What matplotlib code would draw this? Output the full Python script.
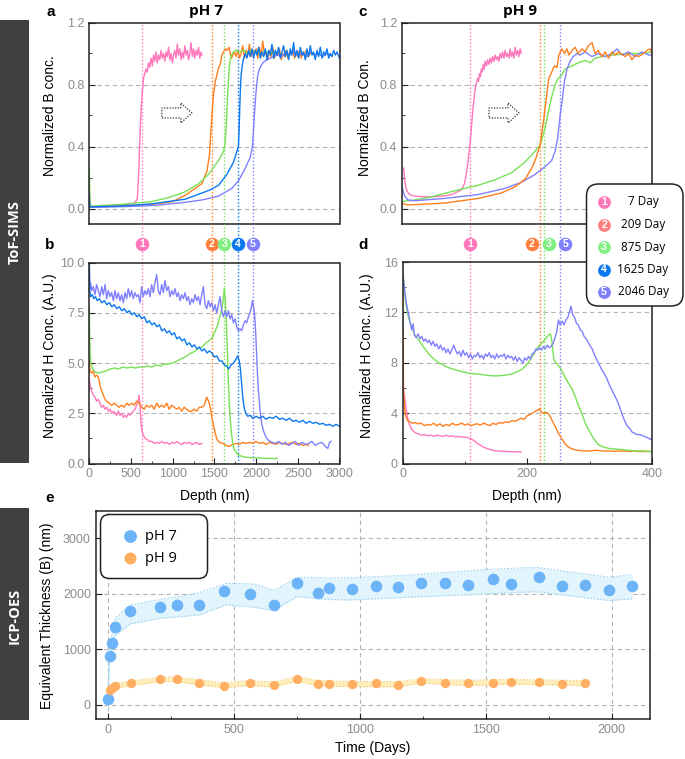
import matplotlib
matplotlib.use("Agg")
import matplotlib.pyplot as plt
from matplotlib.patches import FancyBboxPatch, Polygon, Rectangle
from matplotlib.ticker import MultipleLocator, FormatStrFormatter

# ---------------- data ----------------
DAY_LABELS = ["7 Day", "209 Day", "875 Day", "1625 Day", "2046 Day"]

# panel a: pH 7, normalized B vs depth (nm)
PH7_B_PINK = [(0,0.012),(150,0.014),(300,0.018),(450,0.025),(540,0.035),(575,0.06),(590,0.2),(600,0.35),(612,0.54),(624,0.66),(636,0.75),(650,0.84),(665,0.87),(680,0.9),(695,0.88),(710,0.94),(725,0.91),(740,0.97),(755,0.92),(770,0.99),(785,0.95),(800,1.01),(815,0.94),(830,0.99),(845,0.96),(860,1.02),(875,0.97),(890,1.0),(905,0.95),(920,1.01),(935,0.98),(950,1.04),(965,0.96),(980,1.0),(995,0.94),(1010,0.99),(1025,1.02),(1040,0.97),(1055,1.06),(1070,0.99),(1085,1.03),(1100,0.96),(1115,1.01),(1130,0.97),(1145,1.05),(1160,0.99),(1175,1.02),(1190,0.96),(1205,1.0),(1220,1.07),(1235,0.98),(1250,1.03),(1265,0.97),(1280,1.02),(1295,0.99),(1310,1.04),(1325,0.97),(1340,1.01),(1350,0.99)]
PH7_B_ORANGE = [(0,0.01),(200,0.012),(400,0.016),(600,0.022),(800,0.03),(1000,0.045),(1150,0.085),(1270,0.13),(1350,0.16),(1410,0.24),(1440,0.34),(1470,0.6),(1490,0.74),(1510,0.82),(1530,0.86),(1550,0.91),(1570,0.93),(1590,0.99),(1610,1.01),(1630,1.03),(1650,1.02),(1675,1.04),(1690,1.0),(1705,0.97),(1720,0.99),(1740,1.01),(1760,0.98),(1780,1.02),(1800,0.97),(1820,1.0),(1840,1.05),(1860,0.97),(1880,1.02),(1900,0.99),(1920,1.06),(1940,0.98),(1960,1.02),(1980,1.0),(2000,1.03),(2020,0.97),(2040,1.04),(2060,0.98),(2080,1.08),(2100,0.99),(2120,1.01),(2140,0.96),(2160,1.02),(2180,0.98),(2200,1.04),(2220,0.97),(2240,1.01),(2260,0.99),(2280,1.03),(2300,0.96),(2320,1.0),(2340,0.98),(2360,1.02),(2380,0.97),(2400,1.01),(2420,0.99),(2440,1.03),(2460,0.97),(2480,1.0),(2500,0.98),(2520,1.02),(2540,0.97),(2560,1.01),(2580,0.99),(2600,1.02),(2620,0.98),(2650,1.0)]
PH7_B_GREEN = [(0,0.25),(5,0.12),(12,0.03),(30,0.015),(150,0.02),(350,0.025),(550,0.035),(750,0.045),(950,0.07),(1150,0.108),(1310,0.16),(1430,0.22),(1550,0.31),(1610,0.37),(1628,0.42),(1640,0.52),(1650,0.62),(1660,0.75),(1670,0.84),(1680,0.92),(1690,0.96),(1705,0.99),(1730,1.01),(1760,1.02),(1800,1.01),(1850,1.02),(1900,1.0),(1950,1.02),(2000,1.01),(2050,0.99),(2100,1.02),(2150,1.0),(2200,1.01),(2250,1.0)]
PH7_B_BLUE = [(0,0.06),(5,0.01),(100,0.012),(300,0.015),(500,0.02),(750,0.03),(950,0.045),(1150,0.06),(1350,0.1),(1450,0.12),(1550,0.15),(1650,0.22),(1730,0.3),(1770,0.37),(1788,0.4),(1796,0.5),(1804,0.65),(1812,0.78),(1822,0.87),(1836,0.93),(1852,0.97),(1870,1.0),(1890,0.97),(1910,1.02),(1930,0.98),(1950,1.03),(1970,0.97),(1990,1.02),(2010,0.99),(2030,1.04),(2050,0.97),(2070,1.01),(2090,0.98),(2110,1.03),(2130,0.96),(2150,1.02),(2170,0.99),(2190,1.06),(2210,0.97),(2230,1.02),(2250,0.99),(2270,1.04),(2290,0.97),(2310,1.01),(2330,1.05),(2350,0.98),(2370,1.02),(2390,0.96),(2410,1.03),(2430,0.99),(2450,1.07),(2470,0.98),(2490,1.02),(2510,0.97),(2530,1.04),(2550,0.99),(2570,1.01),(2590,0.96),(2610,1.03),(2630,0.98),(2650,1.05),(2670,0.99),(2690,1.01),(2710,0.96),(2730,1.02),(2750,0.98),(2770,1.04),(2790,0.97),(2810,1.01),(2830,0.99),(2850,1.03),(2870,0.97),(2890,1.0),(2910,0.98),(2930,1.02),(2950,0.99),(2970,1.01),(3000,0.97)]
PH7_B_PURPLE = [(0,0.1),(4,0.01),(100,0.008),(400,0.012),(800,0.02),(1150,0.04),(1350,0.055),(1550,0.08),(1710,0.13),(1790,0.18),(1870,0.26),(1930,0.33),(1956,0.4),(1966,0.48),(1976,0.57),(1986,0.66),(1996,0.73),(2008,0.8),(2020,0.86),(2040,0.9),(2068,0.93),(2100,0.95),(2130,0.96),(2170,0.97),(2210,0.98),(2260,0.99),(2300,0.98),(2350,1.0),(2400,0.99),(2450,1.01),(2500,0.99),(2550,1.0),(2600,0.98),(2650,1.01),(2700,0.99),(2750,1.0),(2800,0.98),(2850,1.0),(2900,0.99)]

# panel b: pH 7, normalized H vs depth (nm)
PH7_H_PINK = [(0,4.2),(10,3.9),(28,3.6),(48,3.4),(68,3.3),(88,3.1),(108,3.2),(128,3.0),(148,2.8),(168,2.9),(188,2.7),(208,2.8),(228,2.6),(248,2.7),(268,2.5),(288,2.6),(308,2.5),(328,2.4),(348,2.6),(368,2.4),(388,2.5),(408,2.3),(428,2.4),(448,2.3),(468,2.5),(488,2.4),(508,2.5),(528,2.6),(548,2.7),(568,2.9),(585,3.1),(596,3.4),(606,3.0),(615,2.4),(625,1.8),(640,1.5),(660,1.3),(690,1.2),(720,1.1),(750,1.1),(780,1.0),(810,1.05),(840,1.0),(870,1.1),(900,1.0),(930,1.05),(960,0.95),(990,1.05),(1020,1.0),(1050,1.1),(1080,1.0),(1110,0.95),(1140,1.05),(1170,1.0),(1200,1.05),(1230,0.95),(1260,1.0),(1290,1.05),(1320,0.95),(1350,1.0)]
PH7_H_ORANGE = [(0,5.1),(8,4.6),(28,4.5),(48,4.6),(68,4.3),(88,4.4),(108,4.3),(128,3.9),(148,3.6),(168,3.4),(188,3.2),(208,3.1),(238,3.0),(268,2.9),(298,3.0),(328,2.9),(358,2.8),(388,2.9),(418,2.8),(448,3.0),(478,2.9),(508,3.0),(538,2.9),(568,3.1),(598,3.0),(628,2.8),(658,2.7),(688,2.9),(718,2.8),(748,2.9),(778,2.7),(808,3.0),(838,2.8),(868,2.9),(898,2.8),(928,3.0),(958,2.7),(988,2.9),(1018,2.8),(1048,2.7),(1078,2.8),(1108,2.6),(1138,2.8),(1168,2.7),(1198,2.6),(1228,2.6),(1258,2.7),(1288,2.6),(1318,2.8),(1348,2.8),(1378,2.9),(1408,3.3),(1430,3.1),(1450,2.8),(1470,2.3),(1490,1.9),(1510,1.5),(1530,1.2),(1560,1.05),(1600,1.0),(1640,0.9),(1680,0.85),(1720,0.95),(1760,1.0),(1800,0.95),(1840,1.05),(1880,1.0),(1920,1.05),(1960,1.0),(2000,1.1),(2040,1.0),(2080,1.05),(2120,0.95),(2160,1.05),(2200,1.0),(2240,0.95),(2280,1.05),(2320,1.0),(2360,0.95),(2400,1.0),(2440,1.05),(2480,0.95),(2520,1.0),(2560,0.9),(2600,0.95),(2630,0.9)]
PH7_H_GREEN = [(0,7.8),(4,6.5),(10,5.5),(20,5.0),(40,4.7),(70,4.55),(110,4.5),(150,4.55),(200,4.6),(250,4.7),(300,4.75),(350,4.7),(400,4.8),(450,4.75),(500,4.8),(550,4.75),(600,4.8),(650,4.8),(700,4.85),(750,4.8),(800,4.9),(850,4.85),(900,4.95),(950,4.95),(1000,5.0),(1050,5.1),(1100,5.2),(1150,5.3),(1200,5.45),(1250,5.55),(1300,5.7),(1350,5.8),(1400,6.0),(1450,6.15),(1480,6.3),(1510,6.6),(1540,6.9),(1565,7.3),(1585,7.6),(1600,8.0),(1612,8.4),(1620,8.7),(1628,8.3),(1638,7.5),(1648,6.5),(1658,5.3),(1668,4.0),(1678,3.0),(1690,2.2),(1705,1.5),(1720,1.0),(1740,0.7),(1770,0.5),(1800,0.4),(1850,0.33),(1900,0.3),(2000,0.28),(2100,0.26),(2250,0.25)]
PH7_H_BLUE = [(0,10.0),(5,8.6),(15,8.3),(35,8.4),(55,8.2),(75,8.3),(95,8.1),(120,8.2),(150,8.0),(180,8.1),(210,7.9),(240,8.0),(270,7.8),(300,7.9),(330,7.7),(360,7.8),(390,7.6),(420,7.7),(450,7.5),(480,7.6),(510,7.4),(540,7.5),(570,7.3),(600,7.4),(630,7.2),(660,7.3),(690,7.0),(720,7.1),(750,6.9),(780,7.0),(810,6.8),(840,6.9),(870,6.6),(900,6.7),(930,6.5),(960,6.6),(990,6.4),(1020,6.5),(1050,6.2),(1080,6.3),(1110,6.1),(1140,6.2),(1170,5.9),(1200,6.0),(1230,5.8),(1260,5.9),(1290,5.7),(1320,5.8),(1350,5.6),(1380,5.7),(1410,5.5),(1440,5.6),(1470,5.5),(1500,5.3),(1530,5.35),(1560,5.1),(1590,5.1),(1620,4.9),(1645,4.85),(1670,4.7),(1700,4.9),(1730,5.0),(1760,5.2),(1780,5.35),(1798,5.1),(1812,4.7),(1826,4.0),(1840,3.3),(1856,2.8),(1875,2.5),(1900,2.35),(1930,2.4),(1960,2.25),(2000,2.35),(2040,2.25),(2080,2.35),(2120,2.2),(2160,2.3),(2200,2.25),(2240,2.35),(2280,2.2),(2320,2.25),(2360,2.15),(2400,2.25),(2440,2.1),(2480,2.15),(2520,2.05),(2560,2.15),(2600,2.0),(2640,2.1),(2680,2.0),(2720,2.05),(2760,1.95),(2800,2.0),(2840,1.9),(2880,1.95),(2920,1.85),(2960,1.95),(3000,1.85)]
PH7_H_PURPLE = [(0,10.0),(5,8.7),(15,9.0),(28,8.6),(48,8.8),(68,8.4),(88,8.9),(108,8.6),(128,8.3),(148,8.8),(168,8.4),(188,8.9),(208,8.2),(228,8.6),(248,8.3),(268,8.5),(288,8.1),(308,8.6),(328,8.2),(348,8.5),(368,8.1),(388,8.4),(408,8.0),(428,8.5),(448,8.2),(468,8.7),(488,8.3),(508,8.6),(528,8.2),(548,8.5),(568,8.3),(588,8.4),(608,8.0),(628,8.8),(648,8.3),(668,8.6),(688,8.4),(708,8.7),(728,8.3),(748,8.9),(768,8.5),(788,9.0),(808,9.4),(828,8.6),(848,8.4),(868,8.9),(888,8.5),(908,9.1),(928,8.6),(948,8.8),(968,8.3),(988,8.6),(1008,8.4),(1028,8.7),(1048,8.3),(1068,8.5),(1088,8.1),(1108,8.4),(1128,8.2),(1148,8.5),(1168,8.1),(1188,8.3),(1208,7.9),(1228,8.2),(1248,8.0),(1268,8.4),(1288,8.1),(1308,8.3),(1328,7.9),(1348,8.4),(1368,8.8),(1388,7.9),(1408,7.7),(1428,8.1),(1448,7.8),(1468,8.0),(1488,7.6),(1508,7.9),(1528,7.5),(1548,7.9),(1568,8.3),(1588,7.6),(1608,7.3),(1628,7.6),(1648,7.3),(1668,7.6),(1688,7.2),(1708,7.4),(1728,7.0),(1748,7.2),(1768,6.8),(1788,6.6),(1808,6.7),(1828,6.6),(1848,6.9),(1868,7.1),(1888,7.0),(1908,7.3),(1928,7.5),(1944,7.8),(1956,8.1),(1968,7.8),(1980,7.5),(1992,6.8),(2004,5.6),(2016,4.5),(2030,3.5),(2048,2.6),(2066,2.0),(2090,1.6),(2120,1.3),(2150,1.15),(2190,1.05),(2230,1.0),(2270,1.1),(2310,0.95),(2350,1.05),(2390,0.9),(2430,1.0),(2470,1.1),(2510,0.9),(2550,1.05),(2590,0.95),(2630,1.0),(2670,1.1),(2710,0.9),(2750,1.0),(2790,1.05),(2830,0.85),(2860,0.75),(2880,1.05),(2900,1.1)]

# panel c: pH 9, normalized B vs depth (nm)
PH9_B_PINK = [(2.7,0.26),(4.3,0.18),(7,0.12),(10,0.1),(12.3,0.09),(20,0.08),(30,0.077),(41.7,0.075),(55,0.077),(63,0.08),(72,0.085),(79,0.09),(85,0.1),(90,0.11),(95,0.12),(100,0.16),(104,0.25),(107,0.35),(109,0.42),(111,0.52),(113,0.62),(115,0.7),(117,0.77),(119,0.81),(121,0.84),(122.5,0.82),(124,0.87),(125.5,0.85),(127,0.9),(128.5,0.88),(130,0.93),(131.5,0.9),(133,0.95),(135,0.92),(137,0.96),(139,0.93),(141,0.97),(143,0.94),(145,0.98),(147,0.95),(149,0.99),(151,0.96),(153,0.98),(155,0.95),(157,1.0),(159,0.97),(161,1.01),(163,0.97),(165,1.02),(167,0.98),(169,1.0),(171,0.97),(173,1.03),(175,0.98),(177,1.01),(179,0.97),(181,1.04),(183,0.99),(185,1.02),(187,0.98),(189,1.03),(191,1.0)]
PH9_B_ORANGE = [(0,0.033),(9.6,0.023),(31,0.027),(68,0.035),(122,0.065),(159,0.1),(181,0.14),(197,0.19),(207.5,0.26),(213,0.31),(217,0.36),(221,0.41),(226,0.55),(231.5,0.73),(235,0.84),(239.5,0.88),(244,0.92),(248,0.91),(251,0.99),(255.6,1.03),(260,1.0),(264,1.03),(267,0.99),(272,1.02),(277,1.04),(282,1.0),(288,1.03),(293,1.01),(298,1.05),(304,1.07),(309,1.0),(314,1.02),(320,0.98),(325,1.01),(330.5,0.97),(336,1.01),(341,0.99),(346.6,1.01),(357,0.98),(362.6,1.0),(368,0.96),(373,0.99),(378.6,0.98),(386.7,1.0),(392,1.02),(397,1.03),(400,1.0)]
PH9_B_GREEN = [(0,0.045),(20,0.055),(41.7,0.07),(95,0.125),(122,0.15),(148.6,0.185),(175,0.23),(197,0.3),(213,0.37),(221,0.41),(229,0.52),(234,0.62),(239.5,0.72),(245,0.8),(250,0.84),(255.6,0.86),(261,0.9),(272,0.92),(282,0.94),(293,0.955),(301,0.94),(309,0.97),(320,0.98),(336,0.99),(362.6,1.0),(384,1.0),(400,1.01)]
PH9_B_PURPLE = [(0,0.14),(4.3,0.08),(9.6,0.055),(20,0.05),(68,0.065),(122,0.09),(165,0.13),(191.5,0.17),(213,0.22),(229,0.27),(239.5,0.31),(245,0.37),(249,0.45),(253,0.6),(257,0.72),(260,0.82),(264,0.9),(269,0.95),(274,0.98),(280,1.0),(285,0.99),(293,1.01),(304,0.98),(314,1.0),(325,0.98),(336,1.0),(344,1.03),(352,0.99),(362.6,1.01),(373,0.98),(384,1.01),(395,0.99),(400,0.99)]

# panel d: pH 9, normalized H vs depth (nm)
PH9_H_PINK = [(0,7.0),(1,6.3),(2,5.6),(4,5.1),(6,4.3),(8,3.7),(11,3.1),(15,2.7),(20,2.45),(25,2.35),(30,2.25),(35,2.3),(40,2.2),(45,2.25),(50,2.15),(55,2.25),(60,2.2),(65,2.15),(70,2.25),(75,2.15),(80,2.2),(85,2.1),(90,2.15),(95,2.1),(100,2.1),(105,2.05),(110,1.95),(115,1.8),(120,1.6),(125,1.45),(130,1.3),(135,1.2),(140,1.12),(145,1.05),(150,1.0),(160,0.97),(170,0.95),(180,0.93),(190,0.92)]
PH9_H_ORANGE = [(0,16.0),(0.8,10.0),(1.6,6.0),(3,4.5),(5,3.8),(8,3.4),(12,3.3),(16,3.2),(20,3.25),(25,3.15),(30,3.2),(35,3.0),(40,3.1),(45,3.05),(50,3.2),(55,3.0),(60,3.15),(65,2.95),(70,3.1),(75,3.0),(80,3.2),(85,3.05),(90,3.1),(95,3.2),(100,3.05),(105,3.15),(110,3.0),(115,3.1),(120,3.15),(125,3.05),(130,3.2),(135,3.1),(140,3.0),(145,3.2),(150,3.1),(155,3.25),(160,3.2),(165,3.3),(170,3.25),(175,3.4),(180,3.35),(185,3.45),(190,3.6),(195,3.5),(200,3.8),(205,3.9),(210,4.05),(215,4.2),(220,4.35),(222,4.1),(225,4.0),(229,4.05),(233,4.0),(237,3.7),(241,3.3),(245,2.9),(250,2.4),(255,2.0),(260,1.6),(266,1.3),(272,1.15),(280,1.05),(290,1.0),(300,1.0),(310,1.05),(320,1.0),(330,1.0),(340,0.97),(350,1.0),(360,0.97),(370,0.98),(380,0.95),(390,0.95),(400,0.95)]
PH9_H_GREEN = [(0,16.0),(1,15.0),(3,13.8),(5,12.8),(7,12.2),(10,11.5),(15,10.8),(20,10.2),(26,9.8),(33,9.3),(42,8.7),(50,8.3),(58,8.0),(66,7.8),(74,7.6),(84,7.45),(95,7.3),(108,7.15),(122,7.1),(135,7.0),(149,6.95),(162,7.0),(175,7.1),(185,7.3),(192,7.5),(198,7.8),(203,8.1),(208,8.5),(213,8.9),(218,9.3),(224,9.6),(229,9.9),(234,10.2),(237,10.3),(239,9.9),(241,9.0),(243,8.2),(248,7.9),(254,7.5),(261,6.8),(267,6.3),(272,5.9),(277,5.3),(282,4.6),(288,3.9),(293,3.2),(298,2.7),(304,2.2),(309,1.8),(314,1.5),(320,1.35),(330,1.2),(341,1.15),(352,1.1),(362,1.05),(373,1.0),(386,1.0),(400,0.95)]
PH9_H_PURPLE = [(0,15.2),(2,14.5),(4,13.5),(7,12.5),(10,11.8),(13,11.0),(15,10.6),(17,11.1),(19,10.2),(22,10.0),(25,10.3),(28,9.9),(31,10.1),(34,9.7),(37,9.9),(40,9.6),(43,9.8),(46,9.4),(49,9.7),(52,9.3),(55,9.5),(58,9.1),(61,9.4),(64,9.0),(67,9.2),(70,8.8),(73,9.1),(76,8.7),(79,9.0),(82,9.4),(85,9.0),(88,8.7),(91,8.9),(94,8.5),(97,9.0),(100,8.6),(103,8.8),(106,8.4),(109,8.7),(112,8.3),(115,8.6),(118,8.5),(121,8.8),(124,8.4),(127,8.6),(130,8.3),(133,8.7),(136,8.5),(139,8.8),(142,8.4),(145,8.6),(148,8.3),(151,8.7),(154,8.4),(157,8.6),(160,8.5),(163,8.7),(166,8.3),(169,8.6),(172,8.4),(175,8.5),(178,8.2),(181,8.5),(184,8.1),(187,8.4),(190,8.2),(193,8.0),(196,8.4),(199,8.2),(202,8.5),(205,8.3),(208,8.7),(211,8.8),(214,9.1),(217,9.0),(220,9.2),(223,9.0),(226,9.3),(229,9.1),(232,9.4),(235,9.2),(238,9.3),(241,9.5),(244,9.9),(247,10.4),(250,11.4),(253,11.0),(256,11.3),(259,11.0),(262,11.4),(265,11.6),(268,12.1),(270,12.5),(273,11.8),(276,11.6),(279,11.1),(282,11.0),(285,10.6),(288,10.5),(291,10.1),(296,9.8),(300,9.4),(304,9.1),(308,8.6),(312,8.2),(316,7.8),(320,7.4),(324,7.1),(328,6.7),(332,6.2),(336,5.8),(340,5.4),(344,5.0),(348,4.5),(352,3.9),(356,3.4),(360,3.0),(364,2.8),(368,2.5),(372,2.4),(376,2.3),(380,2.3),(385,2.2),(390,2.1),(395,2.0),(398,1.9),(400,2.0)]

# marker depths (dotted vertical lines) and badge labels
PH7_MARK_DEPTH = [630, 1470, 1620, 1785, 1960]
PH7_BADGES = ["1", "2", "3", "4", "5"]
PH9_MARK_DEPTH = [108, 221, 227, 252]
PH9_BADGE_POS = [108, 207, 235, 261]
PH9_BADGES = ["1", "2", "3", "5"]

# panel e: ICP-OES equivalent thickness
PH7_DAYS = [0, 7, 15, 29, 89, 209, 274, 362, 462, 565, 660, 750, 836, 876, 968, 1063, 1153, 1244, 1337, 1430, 1530, 1600, 1713, 1804, 1894, 1988, 2081]
PH7_THICK = [108, 882, 1122, 1410, 1686, 1770, 1794, 1806, 2052, 1998, 1806, 2196, 2022, 2112, 2088, 2148, 2118, 2202, 2190, 2154, 2262, 2184, 2298, 2148, 2160, 2070, 2136]
PH7_BAND_DAYS = [0, 7, 15, 29, 89, 209, 362, 470, 580, 660, 750, 870, 960, 1200, 1500, 1700, 1990, 2081]
PH7_BAND_UP = [150, 950, 1250, 1560, 1800, 1900, 2020, 2190, 2180, 2060, 2300, 2290, 2290, 2340, 2440, 2480, 2300, 2350]
PH7_BAND_LO = [60, 800, 1000, 1250, 1460, 1560, 1620, 1800, 1760, 1700, 1950, 1900, 1890, 1940, 2000, 2040, 1880, 1910]

PH9_DAYS = [7, 15, 29, 92, 209, 274, 362, 462, 565, 660, 750, 836, 876, 968, 1063, 1153, 1244, 1337, 1430, 1530, 1600, 1713, 1804, 1894]
PH9_THICK = [270, 312, 342, 390, 462, 462, 402, 348, 396, 360, 474, 384, 378, 372, 402, 366, 432, 402, 390, 402, 420, 408, 384, 390]
PH9_BAND_DAYS = [7, 29, 92, 209, 274, 362, 462, 565, 660, 750, 836, 968, 1153, 1244, 1430, 1600, 1713, 1894]
PH9_BAND_UP = [320, 390, 430, 500, 500, 450, 400, 440, 410, 510, 440, 420, 420, 470, 440, 460, 450, 435]
PH9_BAND_LO = [230, 300, 350, 420, 420, 360, 310, 350, 320, 430, 340, 330, 325, 395, 345, 375, 365, 345]

# ---------------- style ----------------
C_PINK, C_ORANGE, C_GREEN, C_BLUE, C_PURPLE = "#ff77bb", "#ff7f1e", "#77e055", "#0a78f0", "#8080ff"
LINE_COLORS = [C_PINK, C_ORANGE, C_GREEN, C_BLUE, C_PURPLE]
BADGE_COLORS = ["#ff77bb", "#ff7f3f", "#80ee80", "#0a78f0", "#8080ff"]
LEG_COLORS = ["#ff77bb", "#ff7f7f", "#80f080", "#0a78f0", "#8080ff"]
TICK_GRAY = "#8c8c8c"
GRID = "#b4b4b4"

plt.rcParams["font.family"] = ["Liberation Sans", "DejaVu Sans"]

W, H = 685, 759
fig = plt.figure(figsize=(W / 100, H / 100), dpi=100)


def ax_px(l, t, r, b):
    return fig.add_axes([l / W, 1 - b / H, (r - l) / W, (b - t) / H])


def style(ax):
    for s in ax.spines.values():
        s.set_linewidth(1.1)
        s.set_color("#222222")
    ax.tick_params(which="both", direction="in", color="#222222", labelcolor=TICK_GRAY,
                   labelsize=9, top=False, right=False)
    ax.tick_params(which="major", length=4)
    ax.tick_params(which="minor", length=2.5)


def hgrid(ax, vals):
    for v in vals:
        ax.axhline(v, color=GRID, lw=0.8, ls=(0, (4, 3)), zorder=0.5)


def curve(ax, pts, color, z=2):
    xs = [p[0] for p in pts]
    ys = [p[1] for p in pts]
    ax.plot(xs, ys, color=color, lw=1.0, zorder=z)


def arrow(ax, x0, y0, axw, axh):
    # hollow dotted arrow, sizes in pixels converted to axes fraction
    pts_px = [(0, -5), (19, -5), (19, -10), (30, 0), (19, 10), (19, 5), (0, 5)]
    pts = [(x0 + px / axw, y0 + py / axh) for px, py in pts_px]
    ax.add_patch(Polygon(pts, closed=True, transform=ax.transAxes, fill=True, fc="white",
                         ec="#333333", lw=0.9, ls=(0, (1, 1.2)), zorder=3))


ax_a = ax_px(89.3, 22.5, 339.5, 224)
ax_b = ax_px(89.3, 262.5, 339.5, 463.5)
ax_c = ax_px(402, 22.5, 652, 224)
ax_d = ax_px(402.5, 262, 652, 463.5)
ax_e = ax_px(95.7, 510.7, 650, 718.7)

# ---- panel a ----
style(ax_a)
ax_a.set_xlim(0, 3000)
ax_a.set_ylim(-0.1, 1.2)
ax_a.set_yticks([0.0, 0.4, 0.8, 1.2])
ax_a.yaxis.set_minor_locator(MultipleLocator(0.2))
ax_a.yaxis.set_major_formatter(FormatStrFormatter("%.1f"))
ax_a.set_xticks([])
hgrid(ax_a, [0.0, 0.4, 0.8])
for pts, c in zip([PH7_B_PINK, PH7_B_ORANGE, PH7_B_GREEN, PH7_B_PURPLE, PH7_B_BLUE],
                  [C_PINK, C_ORANGE, C_GREEN, C_PURPLE, C_BLUE]):
    curve(ax_a, pts, c)
for d, c in zip(PH7_MARK_DEPTH, LINE_COLORS):
    ax_a.axvline(d, color=c, lw=1.0, ls=(0, (1, 1.5)), zorder=1)
ax_a.set_ylabel("Normalized B conc.", fontsize=10)
ax_a.yaxis.set_label_coords(-0.129, 0.54)
arrow(ax_a, 0.29, 0.551, 250.2, 201.5)

# ---- panel b ----
style(ax_b)
ax_b.set_xlim(0, 3000)
ax_b.set_ylim(0, 10)
ax_b.set_yticks([0, 2.5, 5.0, 7.5, 10.0])
ax_b.yaxis.set_minor_locator(MultipleLocator(1.25))
ax_b.yaxis.set_major_formatter(FormatStrFormatter("%.1f"))
ax_b.set_xticks([0, 500, 1000, 1500, 2000, 2500, 3000])
ax_b.xaxis.set_minor_locator(MultipleLocator(250))
hgrid(ax_b, [2.5, 5.0, 7.5])
for pts, c in zip([PH7_H_PINK, PH7_H_ORANGE, PH7_H_GREEN, PH7_H_PURPLE, PH7_H_BLUE],
                  [C_PINK, C_ORANGE, C_GREEN, C_PURPLE, C_BLUE]):
    curve(ax_b, pts, c)
gap_b = (262.5 - 224) / 201
for d, c in zip(PH7_MARK_DEPTH, LINE_COLORS):
    ax_b.axvline(d, color=c, lw=1.0, ls=(0, (1, 1.5)), zorder=1)
    ax_b.axvline(d, ymin=1, ymax=1 + gap_b, color=c, lw=1.0, ls=(0, (1, 1.5)), clip_on=False)
for d, lab, c in zip(PH7_MARK_DEPTH, PH7_BADGES, BADGE_COLORS):
    ax_b.scatter([d], [1.092], s=95, color=c, transform=ax_b.get_xaxis_transform(),
                 clip_on=False, zorder=5, linewidths=0)
    ax_b.text(d, 1.092, lab, transform=ax_b.get_xaxis_transform(), color="white",
              fontsize=7.5, fontweight="bold", ha="center", va="center", zorder=6)
ax_b.set_ylabel("Normalized H Conc. (A.U.)", fontsize=10)
ax_b.yaxis.set_label_coords(-0.129, 0.535)
ax_b.set_xlabel("Depth (nm)", fontsize=10)
ax_b.xaxis.set_label_coords(0.5, -0.125)

# ---- panel c ----
style(ax_c)
ax_c.set_xlim(0, 400)
ax_c.set_ylim(-0.1, 1.2)
ax_c.set_yticks([0.0, 0.4, 0.8, 1.2])
ax_c.yaxis.set_minor_locator(MultipleLocator(0.2))
ax_c.yaxis.set_major_formatter(FormatStrFormatter("%.1f"))
ax_c.set_xticks([])
hgrid(ax_c, [0.0, 0.4, 0.8])
for pts, c in zip([PH9_B_PINK, PH9_B_GREEN, PH9_B_PURPLE, PH9_B_ORANGE],
                  [C_PINK, C_GREEN, C_PURPLE, C_ORANGE]):
    curve(ax_c, pts, c)
PH9_COLORS = [C_PINK, C_ORANGE, C_GREEN, C_PURPLE]
for d, c in zip(PH9_MARK_DEPTH, PH9_COLORS):
    ax_c.axvline(d, color=c, lw=1.0, ls=(0, (1, 1.5)), zorder=1)
ax_c.set_ylabel("Normalized B Con.", fontsize=10)
ax_c.yaxis.set_label_coords(-0.12, 0.527)
arrow(ax_c, 0.348, 0.551, 250, 201.5)

# ---- panel d ----
style(ax_d)
ax_d.set_xlim(0, 400)
ax_d.set_ylim(0, 16)
ax_d.set_yticks([0, 4, 8, 12, 16])
ax_d.yaxis.set_minor_locator(MultipleLocator(2))
ax_d.set_xticks([0, 200, 400])
ax_d.xaxis.set_minor_locator(MultipleLocator(100))
hgrid(ax_d, [4, 8, 12])
for pts, c in zip([PH9_H_PINK, PH9_H_ORANGE, PH9_H_GREEN, PH9_H_PURPLE],
                  [C_PINK, C_ORANGE, C_GREEN, C_PURPLE]):
    curve(ax_d, pts, c)
gap_d = (262 - 224) / 201.5
for d, c in zip(PH9_MARK_DEPTH, PH9_COLORS):
    ax_d.axvline(d, color=c, lw=1.0, ls=(0, (1, 1.5)), zorder=1)
    ax_d.axvline(d, ymin=1, ymax=1 + gap_d, color=c, lw=1.0, ls=(0, (1, 1.5)), clip_on=False)
PH9_BADGE_COLORS = [BADGE_COLORS[0], BADGE_COLORS[1], BADGE_COLORS[2], BADGE_COLORS[4]]
for d, lab, c in zip(PH9_BADGE_POS, PH9_BADGES, PH9_BADGE_COLORS):
    ax_d.scatter([d], [1.089], s=95, color=c, transform=ax_d.get_xaxis_transform(),
                 clip_on=False, zorder=5, linewidths=0)
    ax_d.text(d, 1.089, lab, transform=ax_d.get_xaxis_transform(), color="white",
              fontsize=7.5, fontweight="bold", ha="center", va="center", zorder=6)
ax_d.set_ylabel("Normalized H Conc. (A.U.)", fontsize=10)
ax_d.yaxis.set_label_coords(-0.115, 0.535)
ax_d.set_xlabel("Depth (nm)", fontsize=10)
ax_d.xaxis.set_label_coords(0.5, -0.125)

# ---- panel e ----
style(ax_e)
ax_e.set_xlim(-48, 2152)
ax_e.set_ylim(-250, 3500)
ax_e.set_yticks([0, 1000, 2000, 3000])
ax_e.set_xticks([0, 500, 1000, 1500, 2000])
ax_e.xaxis.set_minor_locator(MultipleLocator(250))
for v in [0, 1000, 2000, 3000]:
    ax_e.axhline(v, color=GRID, lw=0.8, ls=(0, (4, 3)), zorder=0.5)
for v in [0, 500, 1000, 1500, 2000]:
    ax_e.axvline(v, color=GRID, lw=0.8, ls=(0, (4, 3)), zorder=0.5)
ax_e.fill_between(PH7_BAND_DAYS, PH7_BAND_LO, PH7_BAND_UP, color="#e2f4fc", lw=0, zorder=1)
ax_e.plot(PH7_BAND_DAYS, PH7_BAND_UP, color="#9dd2f2", lw=0.8, ls=(0, (1.5, 1.5)), zorder=1.5)
ax_e.plot(PH7_BAND_DAYS, PH7_BAND_LO, color="#9dd2f2", lw=0.8, ls=(0, (1.5, 1.5)), zorder=1.5)
ax_e.fill_between(PH9_BAND_DAYS, PH9_BAND_LO, PH9_BAND_UP, color="#fdeebb", lw=0, zorder=1)
ax_e.plot(PH9_BAND_DAYS, PH9_BAND_UP, color="#f7cf80", lw=0.8, ls=(0, (1.5, 1.5)), zorder=1.5)
ax_e.plot(PH9_BAND_DAYS, PH9_BAND_LO, color="#f7cf80", lw=0.8, ls=(0, (1.5, 1.5)), zorder=1.5)
ax_e.scatter(PH7_DAYS, PH7_THICK, s=70, color="#6cb4f7", linewidths=0, zorder=3)
ax_e.scatter(PH9_DAYS, PH9_THICK, s=45, color="#ffae62", linewidths=0, zorder=3)
ax_e.set_ylabel("Equivalent Thickness (B) (nm)", fontsize=10)
ax_e.yaxis.set_label_coords(-0.075, 0.494)
ax_e.set_xlabel("Time (Days)", fontsize=10)
ax_e.xaxis.set_label_coords(0.5, -0.105)

# ---- legend for c/d ----
lax = ax_px(585, 183, 685, 308)
lax.set_xlim(0, 100)
lax.set_ylim(125, 0)
lax.axis("off")
lax.add_patch(FancyBboxPatch((1.5, 1), 96.5, 122, boxstyle="round,pad=0,rounding_size=12",
                             fc="white", ec="#222222", lw=1.1, clip_on=False))
for i, (lab, c) in enumerate(zip(DAY_LABELS, LEG_COLORS)):
    yy = 19 + i * 22.5
    lax.scatter([19], [yy], s=85, color=c, linewidths=0, zorder=3, clip_on=False)
    lax.text(19, yy, str(i + 1), color="white", fontsize=7.5, fontweight="bold",
             ha="center", va="center", zorder=4)
    lax.text(58, yy, lab, fontsize=8.5, ha="center", va="center", family=["Open Sans", "DejaVu Sans"])

# ---- legend for e ----
eax = ax_px(100, 514, 208, 579)
eax.set_xlim(0, 108)
eax.set_ylim(65, 0)
eax.axis("off")
eax.add_patch(FancyBboxPatch((0.5, 0.5), 107, 64, boxstyle="round,pad=0,rounding_size=9",
                             fc="white", ec="#222222", lw=1.1, clip_on=False))
eax.scatter([30], [22], s=85, color="#6cb4f7", linewidths=0, clip_on=False)
eax.scatter([30], [44], s=75, color="#ffae62", linewidths=0, clip_on=False)
eax.text(45, 22, "pH 7", fontsize=10.5, va="center", ha="left", family=["Open Sans", "DejaVu Sans"])
eax.text(45, 44, "pH 9", fontsize=10.5, va="center", ha="left", family=["Open Sans", "DejaVu Sans"])

# ---- side labels, titles, panel letters ----
fig.add_artist(Rectangle((0, 1 - 463 / H), 29 / W, (463 - 20) / H, transform=fig.transFigure,
                         fc="#404040", ec="none"))
fig.add_artist(Rectangle((0, 1 - 720 / H), 29 / W, (720 - 508) / H, transform=fig.transFigure,
                         fc="#404040", ec="none"))
fig.text(14.5 / W, 1 - 232 / H, "ToF-SIMS", rotation=90, color="white", fontsize=10.5,
         fontweight="bold", ha="center", va="center", family=["Open Sans", "DejaVu Sans"])
fig.text(14.5 / W, 1 - 616 / H, "ICP-OES", rotation=90, color="white", fontsize=10.5,
         fontweight="bold", ha="center", va="center", family=["Open Sans", "DejaVu Sans"])
fig.text(206 / W, 1 - 11 / H, "pH 7", fontsize=11, fontweight="bold", ha="center", va="center",
         family=["Open Sans", "DejaVu Sans"])
fig.text(520 / W, 1 - 11 / H, "pH 9", fontsize=11, fontweight="bold", ha="center", va="center",
         family=["Open Sans", "DejaVu Sans"])
for lab, x, y in [("a", 50.7, 12), ("b", 50, 245), ("c", 363, 12), ("d", 363, 245), ("e", 50, 498)]:
    fig.text(x / W, 1 - y / H, lab, fontsize=11, fontweight="bold", ha="center", va="center")

fig.savefig("out.png", dpi=100)
